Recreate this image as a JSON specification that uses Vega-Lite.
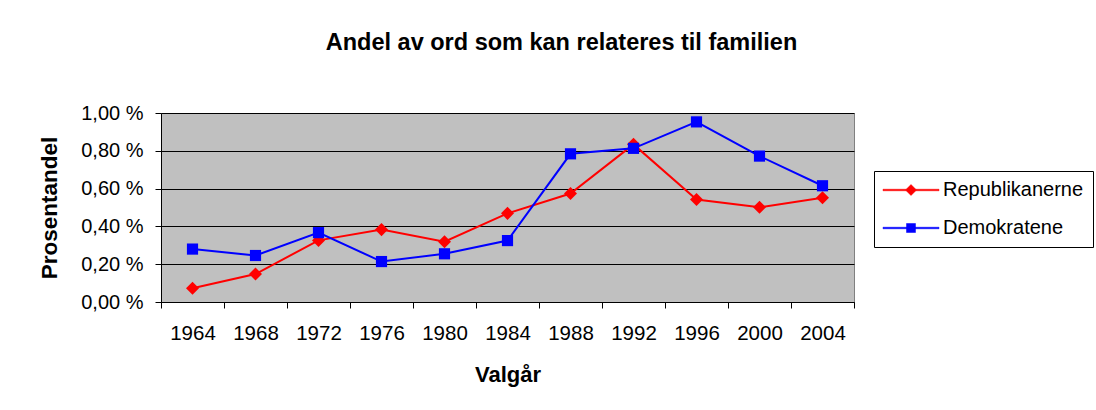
{
  "$schema": "https://vega.github.io/schema/vega-lite/v6.json",
  "autosize": {"type": "none"},
  "width": 693,
  "height": 189,
  "padding": {"left": 161, "top": 113, "right": 242, "bottom": 108},
  "background": "white",
  "title": {
    "text": "Andel av ord som kan relateres til familien",
    "font": "Liberation Sans",
    "fontSize": 23.5,
    "fontWeight": "bold",
    "color": "black",
    "anchor": "middle",
    "frame": "group",
    "baseline": "alphabetic",
    "offset": 30,
    "dx": 54
  },
  "data": {
    "values": [
      {"year": "1964", "party": "Republikanerne", "value": 0.073},
      {"year": "1968", "party": "Republikanerne", "value": 0.148},
      {"year": "1972", "party": "Republikanerne", "value": 0.326},
      {"year": "1976", "party": "Republikanerne", "value": 0.383},
      {"year": "1980", "party": "Republikanerne", "value": 0.319},
      {"year": "1984", "party": "Republikanerne", "value": 0.469},
      {"year": "1988", "party": "Republikanerne", "value": 0.574},
      {"year": "1992", "party": "Republikanerne", "value": 0.834},
      {"year": "1996", "party": "Republikanerne", "value": 0.542},
      {"year": "2000", "party": "Republikanerne", "value": 0.501},
      {"year": "2004", "party": "Republikanerne", "value": 0.552},
      {"year": "1964", "party": "Demokratene", "value": 0.28},
      {"year": "1968", "party": "Demokratene", "value": 0.246},
      {"year": "1972", "party": "Demokratene", "value": 0.367},
      {"year": "1976", "party": "Demokratene", "value": 0.214},
      {"year": "1980", "party": "Demokratene", "value": 0.255},
      {"year": "1984", "party": "Demokratene", "value": 0.325},
      {"year": "1988", "party": "Demokratene", "value": 0.784},
      {"year": "1992", "party": "Demokratene", "value": 0.813},
      {"year": "1996", "party": "Demokratene", "value": 0.953},
      {"year": "2000", "party": "Demokratene", "value": 0.772},
      {"year": "2004", "party": "Demokratene", "value": 0.615}
    ]
  },
  "encoding": {
    "x": {
      "field": "year",
      "type": "ordinal",
      "scale": {"type": "band", "paddingInner": 0, "paddingOuter": 0},
      "axis": {
        "title": "Valgår",
        "labelAngle": 0,
        "tickBand": "extent",
        "grid": false,
        "domainColor": "black",
        "domainWidth": 1,
        "tickColor": "black",
        "tickSize": 6,
        "labelPadding": 15,
        "labelFont": "Liberation Sans",
        "labelFontSize": 20.5,
        "labelColor": "black",
        "titleFont": "Liberation Sans",
        "titleFontSize": 22,
        "titleFontWeight": "bold",
        "titleColor": "black",
        "titlePadding": 21
      }
    },
    "y": {
      "field": "value",
      "type": "quantitative",
      "scale": {"domain": [0, 1], "nice": false},
      "axis": {
        "title": "Prosentandel",
        "values": [0, 0.2, 0.4, 0.6, 0.8, 1.0],
        "labelExpr": "replace(format(datum.value, '.2f'), '.', ',') + ' %'",
        "grid": true,
        "gridColor": "black",
        "gridWidth": 1,
        "gridOpacity": 1,
        "domainColor": "black",
        "tickColor": "black",
        "tickSize": 6,
        "labelPadding": 12,
        "labelFont": "Liberation Sans",
        "labelFontSize": 20,
        "labelColor": "black",
        "titleFont": "Liberation Sans",
        "titleFontSize": 22.5,
        "titleFontWeight": "bold",
        "titleColor": "black",
        "titlePadding": 19
      }
    }
  },
  "layer": [
    {
      "mark": {"type": "line", "strokeWidth": 2},
      "encoding": {
        "color": {
          "field": "party",
          "type": "nominal",
          "scale": {"domain": ["Republikanerne", "Demokratene"], "range": ["#FF0000", "#0000FF"]},
          "legend": {
            "title": null,
            "orient": "none",
            "legendX": 713,
            "legendY": 58,
            "padding": 9,
            "strokeColor": "black",
            "fillColor": "white",
            "cornerRadius": 0,
            "labelFont": "Liberation Sans",
            "labelFontSize": 20,
            "labelColor": "black",
            "symbolSize": 100,
            "symbolOffset": 18,
            "labelOffset": 22,
            "rowPadding": 18,
            "labelLimit": 300,
            "symbolStrokeWidth": 0.5,
            "encode": {
              "symbols": {
                "update": {
                  "shape": {"signal": "datum.value === 'Republikanerne' ? 'M-5.6,-0.15H5.6V0.15H-5.6ZM0,-1.1L1.1,0L0,1.1L-1.1,0Z' : 'M-5.6,-0.15H5.6V0.15H-5.6ZM-0.9,-0.9H0.9V0.9H-0.9Z'"},
                  "fill": {"signal": "scale('color', datum.value)"},
                  "opacity": {"value": 1},
                  "fillOpacity": {"value": 1}
                }
              }
            }
          }
        }
      }
    },
    {
      "transform": [{"filter": "datum.party === 'Republikanerne'"}],
      "mark": {"type": "point", "shape": "diamond", "filled": true, "color": "#FF0000", "size": 170, "opacity": 1, "strokeWidth": 0}
    },
    {
      "transform": [{"filter": "datum.party === 'Demokratene'"}],
      "mark": {"type": "point", "shape": "square", "filled": true, "color": "#0000FF", "size": 125, "opacity": 1, "strokeWidth": 0}
    }
  ],
  "config": {
    "view": {"fill": "#C0C0C0", "stroke": "#808080", "strokeWidth": 1}
  }
}
